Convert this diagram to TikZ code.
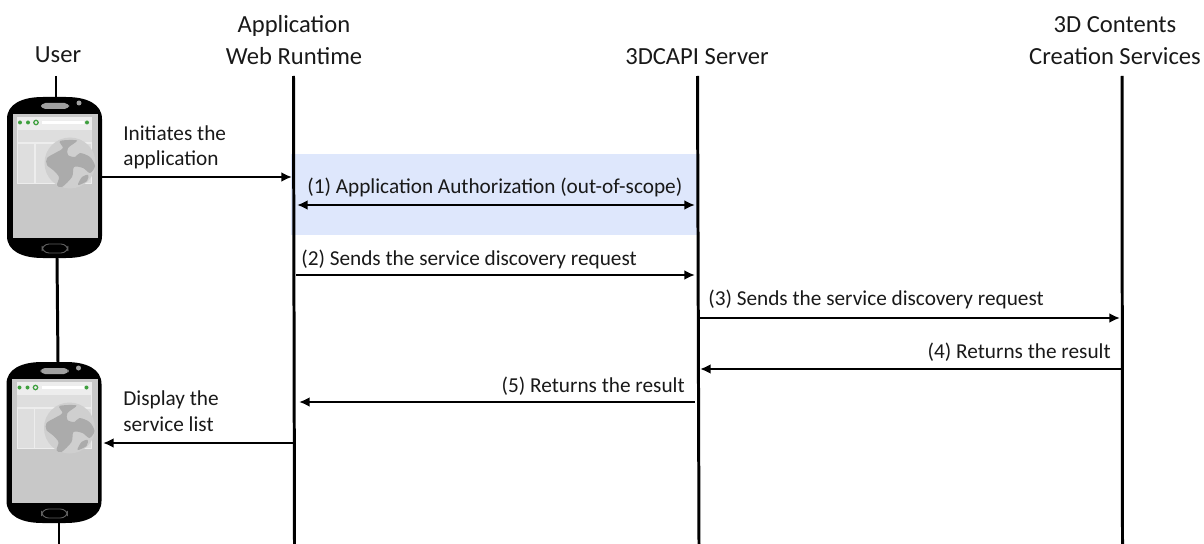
\documentclass[tikz,border=0pt]{standalone}
\usepackage{fontspec}
\setmainfont{Carlito}
\usetikzlibrary{calc,arrows.meta}
\definecolor{bandblue}{HTML}{DEE7FC}
\definecolor{screengray}{HTML}{C8C8C8}
\definecolor{panelgray}{HTML}{DEDEDE}
\definecolor{panelline}{HTML}{EDEDED}
\definecolor{globegray}{HTML}{CFCFCF}
\definecolor{landgray}{HTML}{ABABAB}
\definecolor{speakergray}{HTML}{A0A0A0}
\definecolor{browsergreen}{HTML}{3FA03F}
\tikzset{
  lifeline/.style={line width=1.7pt},
  msg/.style={line width=1.6pt,-{Latex[length=6pt,width=5.5pt]}},
  msgboth/.style={line width=1.6pt,{Latex[length=6pt,width=5.5pt]}-{Latex[length=6pt,width=5.5pt]}},
  lbl/.style={font=\fontsize{12.1}{14.7}\selectfont,inner sep=0pt,text=black!90},
  head/.style={font=\fontsize{14}{18.1}\selectfont,inner sep=0pt,text=black!90,align=center,anchor=south},
}
\newcommand{\drawphone}{%
  \fill[black] (0,22) .. controls (0,7) and (15,0) .. (36,0) -- (59,0)
    .. controls (80,0) and (95,7) .. (95,22) -- (95,139)
    .. controls (95,154) and (80,161) .. (59,161) -- (36,161)
    .. controls (15,161) and (0,154) .. (0,139) -- cycle;
  \fill[speakergray,rounded corners=2.5] (34,6) rectangle (62,12);
  \fill[speakergray] (72,6) circle (2.5);
  \draw[speakergray!60!black,line width=0.5pt,rounded corners=4] (35,147) rectangle (61,156);
  \fill[screengray] (5.5,17) rectangle (91,141);
  \fill[panelline] (10,20) rectangle (85,87);
  \fill[panelgray] (10.5,33) rectangle (84.5,45);
  \fill[panelgray] (11,47) rectangle (27,86);
  \fill[panelgray] (28.5,47) rectangle (84,86);
  \fill[white] (35,24) rectangle (77,27);
  \fill[browsergreen] (13,25.5) circle (2) (21,25.5) circle (2) (80,25.5) circle (2);
  \draw[browsergreen,line width=0.7pt] (29,25.5) circle (2.2);
  \fill[globegray] (63,66) circle (25.5);
  \fill[landgray] plot[smooth cycle,tension=0.5] coordinates {(53,44) (70,43.5) (61,51) (61,58) (68,60) (73,56) (83,60) (88,69) (83,76) (76,71) (67,70) (65,80) (55,90) (50,88) (52,80) (46,73) (40,68) (40,61) (50,55) (56,51)};
  \fill[landgray] plot[smooth cycle,tension=0.5] coordinates {(71,88) (75,80) (81,78) (80,84)};
}
\begin{document}
\begin{tikzpicture}[x=0.02cm,y=-0.02cm]
  \useasboundingbox (0,0) rectangle (1204,544);
  % band behind the first exchange
  \fill[bandblue] (291,154) rectangle (697,235);
  % heads
  \node[head] (user) at (58,63) {User};
  \node[head] (app) at (294,65) {Application\\Web Runtime};
  \node[head] (server) at (697,65) {3DCAPI Server};
  \node[head] (services) at (1115,65) {3D Contents\\Creation Services};
  % lifelines
  \coordinate (UA) at (56,76);
  \coordinate (UB) at (56,97);
  \coordinate (UC) at (57,258);
  \coordinate (UD) at (58,362);
  \coordinate (UE) at (59,522);
  \coordinate (UF) at (59,544);
  \coordinate (AA) at (293.5,76);
  \coordinate (AB) at (294.5,544);
  \coordinate (SA) at (697.5,76);
  \coordinate (SB) at (699,544);
  \coordinate (CA) at (1122,76);
  \coordinate (CB) at (1122.5,544);
  \draw[lifeline] (UA)--(UB);
  \draw[lifeline] (UC)--(UD);
  \draw[lifeline] (UE)--(UF);
  \draw[lifeline] (AA)--(AB);
  \draw[lifeline] (SA)--(SB);
  \draw[lifeline] (CA)--(CB);
  % phones
  \begin{scope}[shift={(7,97)}]
    \drawphone
  \end{scope}
  \begin{scope}[shift={(6.5,362)}]
    \drawphone
  \end{scope}
  % messages
  \coordinate (M0a) at (102,177);
  \coordinate (M0b) at (292,177);
  \coordinate (M1a) at (297,205);
  \coordinate (M1b) at (695,205);
  \coordinate (M2a) at (296,275);
  \coordinate (M2b) at (695,275);
  \coordinate (M3a) at (700,318);
  \coordinate (M3b) at (1120,318);
  \coordinate (M4a) at (1122,369);
  \coordinate (M4b) at (700,369);
  \coordinate (M5a) at (695,402);
  \coordinate (M5b) at (299,402);
  \coordinate (M6a) at (293,443);
  \coordinate (M6b) at (103,443);
  \draw[msg] (M0a)--(M0b);
  \draw[msgboth] (M1a)--(M1b);
  \draw[msg] (M2a)--(M2b);
  \draw[msg] (M3a)--(M3b);
  \draw[msg] (M4a)--(M4b);
  \draw[msg] (M5a)--(M5b);
  \draw[msg] (M6a)--(M6b);
  % labels
  \node[lbl,align=left,anchor=base west] (L0) at (123,166) {Initiates the\\application};
  \node[lbl,anchor=base west] (L1) at (307,194) {(1) Application Authorization (out-of-scope)};
  \node[lbl,anchor=base west] (L2) at (301,265) {(2) Sends the service discovery request};
  \node[lbl,anchor=base west] (L3) at (708,305) {(3) Sends the service discovery request};
  \node[lbl,anchor=base east] (L4) at (1111,358) {(4) Returns the result};
  \node[lbl,anchor=base east] (L5) at (685,392) {(5) Returns the result};
  \node[lbl,align=left,anchor=base west] (L6) at (123,431) {Display the\\service list};
\end{tikzpicture}
\end{document}
